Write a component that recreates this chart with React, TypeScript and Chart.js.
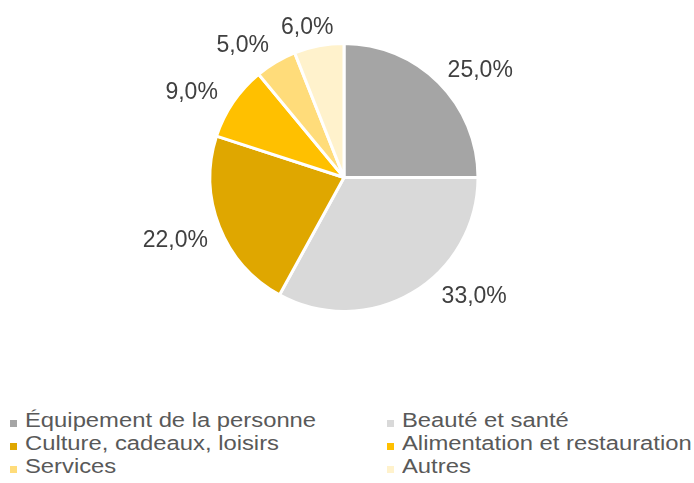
import React, { useEffect, useRef } from "react";
import { Chart, registerables } from "chart.js";

Chart.register(...registerables);

const categories = [
  "Équipement de la personne",
  "Beauté et santé",
  "Culture, cadeaux, loisirs",
  "Alimentation et restauration",
  "Services",
  "Autres",
];
const values = [25, 33, 22, 9, 5, 6];
const colors = ["#a5a5a5", "#d9d9d9", "#dfa700", "#ffc000", "#ffdc7a", "#fff2cc"];

// label placement style (angle nudge in degrees, gap from the pie edge in px)
const labelAngleNudge = [7, -17, 1, -5, -7, -3];
const labelGap = [21, 26, 15, 18, 18, 9];

const labelPlugin = {
  id: "outsideLabels",
  afterDatasetsDraw(chart: any) {
    const ctx = chart.ctx;
    const meta = chart.getDatasetMeta(0);
    ctx.save();
    ctx.font = "23px 'Liberation Sans', Arial, sans-serif";
    ctx.fillStyle = "#404040";
    ctx.textAlign = "center";
    ctx.textBaseline = "middle";
    meta.data.forEach((arc: any, i: number) => {
      const { x, y, startAngle, endAngle, outerRadius } = arc.getProps(
        ["x", "y", "startAngle", "endAngle", "outerRadius"],
        true
      );
      const mid = (startAngle + endAngle) / 2 + (labelAngleNudge[i] * Math.PI) / 180;
      const text = values[i].toFixed(1).replace(".", ",") + "%";
      const hw = ctx.measureText(text).width / 2;
      const hh = 11;
      const c = Math.cos(mid);
      const s = Math.sin(mid);
      const ext = Math.min(
        Math.abs(c) > 1e-6 ? hw / Math.abs(c) : Infinity,
        Math.abs(s) > 1e-6 ? hh / Math.abs(s) : Infinity
      );
      const d = outerRadius + labelGap[i] + ext;
      ctx.fillText(text, x + c * d, y + s * d);
    });
    ctx.restore();
  },
};

export default function App() {
  const ref = useRef<HTMLCanvasElement>(null);
  useEffect(() => {
    if (!ref.current) return;
    const chart = new Chart(ref.current, {
      type: "pie",
      data: {
        labels: categories,
        datasets: [
          {
            data: values,
            backgroundColor: colors,
            borderColor: "#ffffff",
            borderWidth: 3,
          },
        ],
      },
      options: {
        animation: false,
        responsive: true,
        maintainAspectRatio: false,
        radius: 134,
        layout: { padding: { left: 0, right: 6, top: 0, bottom: 45 } },
        plugins: {
          legend: { display: false },
          tooltip: { enabled: false },
        },
      },
      plugins: [labelPlugin],
    });
    return () => chart.destroy();
  }, []);

  return (
    <div
      style={{
        position: "absolute",
        left: 0,
        top: 0,
        width: 694,
        height: 483,
        background: "#ffffff",
        overflow: "hidden",
      }}
    >
      <div style={{ position: "absolute", left: 0, top: 0, width: 694, height: 400 }}>
        <canvas ref={ref} />
      </div>
      {categories.map((name, i) => {
        const col = i % 2;
        const row = Math.floor(i / 2);
        return (
          <div
            key={name}
            style={{
              position: "absolute",
              left: col === 0 ? 10 : 387,
              top: 409 + row * 23,
              height: 23,
              whiteSpace: "nowrap",
            }}
          >
            <span
              style={{
                position: "absolute",
                left: 0,
                top: 11,
                width: 7,
                height: 7,
                background: colors[i],
              }}
            />
            <span
              style={{
                position: "absolute",
                left: 15,
                top: 0,
                fontFamily: "'Liberation Sans', Arial, sans-serif",
                fontSize: 20,
                lineHeight: "23px",
                color: "#595959",
                transform: "scaleX(1.19)",
                transformOrigin: "left top",
              }}
            >
              {name}
            </span>
          </div>
        );
      })}
    </div>
  );
}
